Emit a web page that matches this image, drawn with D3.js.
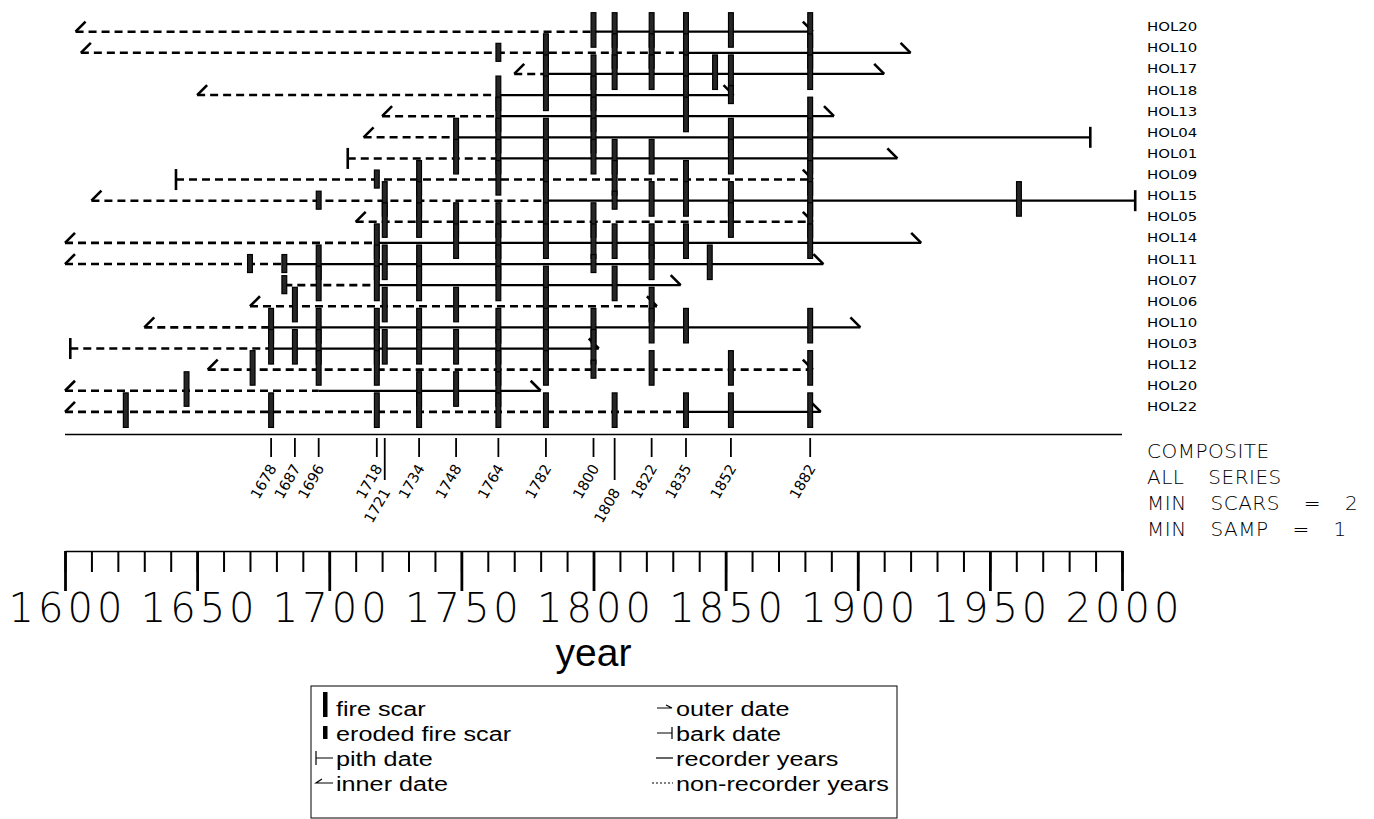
<!DOCTYPE html>
<html><head><meta charset="utf-8">
<script src="https://cdn.jsdelivr.net/npm/d3@7"></script>
<style>body{margin:0;background:#fff;} svg{display:block}</style>
</head><body><svg id="c" width="1374" height="819"></svg>
<script>
// ---------------- data ----------------
const seriesNames = ["HOL20","HOL10","HOL17","HOL18","HOL13","HOL04","HOL01","HOL09","HOL15","HOL05","HOL14","HOL11","HOL07","HOL06","HOL10","HOL03","HOL12","HOL20","HOL22"];
const firstYears  = [1604,1606,1770,1650,1720,1713,1707,1642,1610,1710,1600,1600,1683,1670,1630,1602,1654,1600,1600];
const firstTypes  = ["inner","inner","inner","inner","inner","inner","pith","pith","inner","inner","inner","inner","none","inner","inner","pith","inner","inner","inner"];
const lastYears   = [1883,1920,1910,1853,1891,1988,1915,1883,2005,1883,1924,1887,1833,1824,1901,1802,1883,1780,1886];
const lastTypes   = ["outer","outer","outer","outer","outer","bark","outer","outer","bark","outer","outer","outer","outer","outer","outer","outer","outer","outer","outer"];
const recorderFrom= [1800,1835,1782,1764,1764,1748,1764,null,1782,null,1718,1683,1718,null,1678,1678,null,1696,1835];
const fireScars = [
  [1800,1808,1822,1835,1852,1882],
  [1782,1808,1822,1835,1882],
  [1782,1800,1808,1822,1835,1846,1852,1882],
  [1764,1782,1800,1835],
  [1764,1800,1835,1882],
  [1748,1764,1782,1800,1852,1882],
  [1748,1764,1782,1800,1808,1822,1852,1882],
  [1734,1764,1782,1808,1835,1882],
  [1721,1734,1782,1822,1835,1852,1882,1961],
  [1721,1734,1748,1764,1782,1800,1852,1882],
  [1718,1748,1764,1782,1800,1808,1822,1835,1882],
  [1696,1718,1721,1734,1764,1822,1844],
  [1696,1718,1734,1764,1782,1808],
  [1687,1721,1748,1782,1822],
  [1678,1696,1718,1734,1764,1782,1800,1822,1835,1882],
  [1678,1687,1696,1718,1721,1734,1748,1764,1782,1800],
  [1671,1696,1718,1764,1782,1822,1852,1882],
  [1646,1734,1748,1764],
  [1623,1678,1718,1734,1764,1782,1808,1835,1852,1882]
];
const erodedScars = [
  [],[1764],[],[1852],[],[],[],[1718],[1696,1808],[],[],[1670,1683,1800],[1683],[],[],[],[1800],[],[]
];
const compositeYears = [1678,1687,1696,1718,1721,1734,1748,1764,1782,1800,1808,1822,1835,1852,1882];
const compositeLong  = [1721,1808];
const compositeInfo  = ["COMPOSITE","ALL SERIES","MIN SCARS = 2","MIN SAMP = 1"];
const legendLeft  = ["fire scar","eroded fire scar","pith date","inner date"];
const legendRight = ["outer date","bark date","recorder years","non-recorder years"];

// ---------------- chart ----------------
const svg = d3.select("#c");
const x = d3.scaleLinear().domain([1600,2000]).range([65,1122]);
const y = d3.scalePoint().domain(d3.range(seriesNames.length)).range([31.7,411.9]);

const rows = seriesNames.map((name,i)=>({name,i,first:firstYears[i],firstType:firstTypes[i],
  last:lastYears[i],lastType:lastTypes[i],rec:recorderFrom[i],scars:fireScars[i],eroded:erodedScars[i]}));

const plot = svg.append("g");
plot.selectAll("line.nr").data(rows.filter(r=>r.rec===null || r.rec>r.first)).join("line")
  .attr("class","nr")
  .attr("x1",r=>x(r.first)).attr("x2",r=>x(r.rec===null?r.last:r.rec))
  .attr("y1",r=>y(r.i)).attr("y2",r=>y(r.i))
  .attr("stroke","#000").attr("stroke-width",2.6).attr("stroke-dasharray","8,5");
plot.selectAll("line.rc").data(rows.filter(r=>r.rec!==null)).join("line")
  .attr("class","rc")
  .attr("x1",r=>x(r.rec)).attr("x2",r=>x(r.last))
  .attr("y1",r=>y(r.i)).attr("y2",r=>y(r.i))
  .attr("stroke","#000").attr("stroke-width",2.2);

function startPath(r){
  const X=x(r.first), Y=y(r.i);
  if(r.firstType==="inner") return `M${X},${Y}L${X+10},${Y-10}`;
  if(r.firstType==="pith") return `M${X},${Y-10.5}L${X},${Y+10.5}`;
  return "";
}
function endPath(r){
  const X=x(r.last), Y=y(r.i);
  if(r.lastType==="outer") return `M${X},${Y}L${X-10},${Y-10}`;
  if(r.lastType==="bark") return `M${X},${Y-10.5}L${X},${Y+10.5}`;
  return "";
}
plot.selectAll("path.st").data(rows).join("path").attr("class","st")
  .attr("d",startPath).attr("fill","none").attr("stroke","#000").attr("stroke-width",2.6);
plot.selectAll("path.en").data(rows).join("path").attr("class","en")
  .attr("d",endPath).attr("fill","none").attr("stroke","#000").attr("stroke-width",2.6);

const scarData = rows.flatMap(r=>r.scars.map(yr=>({yr,i:r.i})));
const erodData = rows.flatMap(r=>r.eroded.map(yr=>({yr,i:r.i})));
plot.selectAll("rect.scar").data(scarData).join("rect").attr("class","scar")
  .attr("x",d=>x(d.yr)-2.4).attr("y",d=>y(d.i)-19).attr("width",4.8).attr("height",34.5)
  .attr("fill","#262626").attr("stroke","#000").attr("stroke-width",1.2);
plot.selectAll("rect.eroded").data(erodData).join("rect").attr("class","eroded")
  .attr("x",d=>x(d.yr)-2.4).attr("y",d=>y(d.i)-9.5).attr("width",4.8).attr("height",18)
  .attr("fill","#262626").attr("stroke","#000").attr("stroke-width",1.2);

// series names
svg.selectAll("text.nm").data(rows).join("text").attr("class","nm")
  .attr("transform",r=>`translate(1147,${y(r.i)-0.5}) scale(1.3,1)`)
  .attr("font-family","DejaVu Sans").attr("font-size",11.5)
  .text(r=>r.name);

// composite
const compY = 434.5;
svg.append("line").attr("x1",x(1600)).attr("x2",x(2000)).attr("y1",compY).attr("y2",compY)
  .attr("stroke","#000").attr("stroke-width",1.5);
const comp = svg.append("g");
comp.selectAll("line").data(compositeYears).join("line")
  .attr("x1",d=>x(d)).attr("x2",d=>x(d)).attr("y1",438)
  .attr("y2",d=>compositeLong.includes(d)?480:457)
  .attr("stroke","#000").attr("stroke-width",1.8);
comp.selectAll("text").data(compositeYears).join("text")
  .attr("transform",d=>`translate(${x(d)+6},${compositeLong.includes(d)?492:468}) rotate(-60)`)
  .attr("text-anchor","end").attr("fill","#000")
  .attr("font-family","DejaVu Sans").attr("font-size",14.5)
  .text(d=>d);

svg.selectAll("text.ci").data(compositeInfo).join("text").attr("class","ci")
  .attr("x",1147).attr("y",(d,k)=>458+k*26)
  .attr("font-family","DejaVu Sans").attr("font-size",20).attr("font-weight",300)
  .attr("word-spacing",17).attr("letter-spacing",0.5)
  .text(d=>d);

// bottom year axis
const axY = 551;
const minorAxis = d3.axisBottom(x).tickValues(d3.range(1600,2001,10)).tickSize(21).tickSizeOuter(0).tickFormat("");
const majorAxis = d3.axisBottom(x).tickValues(d3.range(1600,2001,50)).tickSize(40).tickSizeOuter(0).tickPadding(3).tickFormat(d3.format("d"));
const gMin = svg.append("g").attr("transform",`translate(0,${axY})`).call(minorAxis);
gMin.select(".domain").attr("stroke","#000").attr("stroke-width",1.5);
gMin.selectAll(".tick line").attr("stroke","#000").attr("stroke-width",2);
const gMaj = svg.append("g").attr("transform",`translate(0,${axY})`).call(majorAxis);
gMaj.select(".domain").remove();
gMaj.selectAll(".tick line").attr("stroke","#000").attr("stroke-width",2.8);
gMaj.selectAll(".tick text").attr("fill","#000").attr("font-family","DejaVu Sans")
  .attr("font-weight",200).attr("font-size",40).attr("letter-spacing",4).attr("dx",2);

svg.append("text").attr("x",x(1800)).attr("y",666).attr("text-anchor","middle")
  .attr("font-family","Liberation Sans, Arial, sans-serif").attr("font-size",39).text("year");

// legend
const lg = svg.append("g");
const lx0 = 311, ly0 = 686, lx1 = 897, ly1 = 818;
lg.append("rect").attr("x",lx0).attr("y",ly0).attr("width",lx1-lx0).attr("height",ly1-ly0)
  .attr("fill","none").attr("stroke","#000").attr("stroke-width",1);
const rowY = k => 708 + k*25;
lg.selectAll("text.ll").data(legendLeft).join("text").attr("class","ll")
  .attr("transform",(d,k)=>`translate(336,${rowY(k)+7.5}) scale(1.2,1)`)
  .attr("font-family","Liberation Sans, Arial, sans-serif").attr("font-size",21).text(d=>d);
lg.selectAll("text.lr").data(legendRight).join("text").attr("class","lr")
  .attr("transform",(d,k)=>`translate(676,${rowY(k)+7.5}) scale(1.2,1)`)
  .attr("font-family","Liberation Sans, Arial, sans-serif").attr("font-size",21).text(d=>d);
// icons
lg.append("rect").attr("x",323).attr("y",rowY(0)-16).attr("width",4.5).attr("height",25).attr("fill","#000");
lg.append("rect").attr("x",323).attr("y",rowY(1)-7).attr("width",4.5).attr("height",13).attr("fill","#000");
lg.append("path").attr("d",`M316,${rowY(2)-7}L316,${rowY(2)+7}M316,${rowY(2)}L333,${rowY(2)}`).attr("stroke","#000").attr("stroke-width",1.2).attr("fill","none");
lg.append("path").attr("d",`M322,${rowY(3)-4}L316,${rowY(3)}L333,${rowY(3)}`).attr("stroke","#000").attr("stroke-width",1.2).attr("fill","none");
lg.append("path").attr("d",`M657,${rowY(0)}L672,${rowY(0)}L666,${rowY(0)-3}`).attr("stroke","#000").attr("stroke-width",1.2).attr("fill","none");
lg.append("path").attr("d",`M657,${rowY(1)}L672,${rowY(1)}M672,${rowY(1)-6}L672,${rowY(1)+6}`).attr("stroke","#000").attr("stroke-width",1.2).attr("fill","none");
lg.append("path").attr("d",`M656,${rowY(2)}L673,${rowY(2)}`).attr("stroke","#000").attr("stroke-width",1.2).attr("fill","none");
lg.append("path").attr("d",`M652,${rowY(3)}L673,${rowY(3)}`).attr("stroke","#000").attr("stroke-width",1.2).attr("stroke-dasharray","2,2").attr("fill","none");
</script></body></html>
